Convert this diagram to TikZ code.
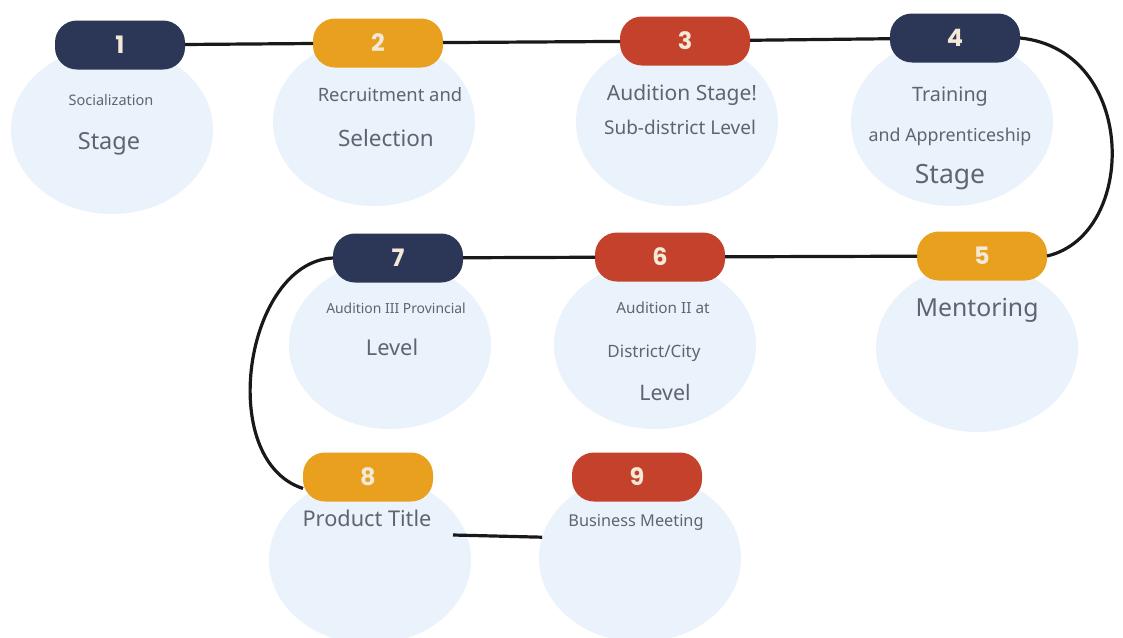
\documentclass[tikz,border=0pt]{standalone}
\usepackage{fontspec}
\setmainfont{Noto Sans}
\newfontfamily\numfont{Poppins}
\usepackage{xcolor}
\usepackage{tikz}
\usetikzlibrary{shapes.geometric}
\definecolor{navy}{HTML}{2C3757}
\definecolor{amber}{HTML}{E8A01E}
\definecolor{brick}{HTML}{C4412B}
\definecolor{blobblue}{HTML}{EAF2FB}
\definecolor{ink}{HTML}{5E6570}
\definecolor{cream}{HTML}{F4E8D6}

\begin{document}
\begin{tikzpicture}[x=1pt, y=-1pt,
  blob/.style={ellipse,fill=blobblue,minimum width=202pt,minimum height=168pt,inner sep=0pt,outer sep=0pt},
  pill/.style={rounded corners=22pt,minimum width=130pt,minimum height=49pt,inner sep=0pt,outer sep=0pt,text=cream,font=\numfont\bfseries\fontsize{24}{24}\selectfont},
  lbl/.style={text=ink,inner sep=0pt},
  link/.style={line width=3.2pt,black!90}]
  \useasboundingbox[fill=white] (0,0) rectangle (1123,637);
  \foreach \n/\x/\y in {1/112/130, 2/374/122, 3/677/122, 4/952/122, 5/977/348, 6/655/345, 7/390/345, 8/370/560, 9/640/558} {
    \node[blob] (b\n) at (\x,\y) {};
  }
  \foreach \n/\x/\y/\col in {1/120/45/navy, 2/378/43/amber, 3/685/41/brick, 4/955/38/navy, 5/982/256/amber, 6/660/257/brick, 7/398/258/navy, 8/368/477/amber, 9/637/477/brick} {
    \node[pill,fill=\col] (p\n) at (\x,\y) {\n};
  }
  \foreach \nm/\x/\y/\sz/\txt in {s1a/111/100/14.5/Socialization, s1b/109/144/23.5/Stage,
      s2a/390/95/18.4/{Recruitment and}, s2b/386/138/22.5/Selection,
      s3a/682/95/21/{Audition Stage!}, s3b/680/127/19/{Sub-district Level},
      s4a/950/97/19.8/Training, s4b/950/137/17.8/{and Apprenticeship}, s4c/950/177/26.5/Stage,
      s5a/977/310/24.8/Mentoring,
      s6a/663/308/15.3/{Audition II at}, s6b/654/353/17/{District/City}, s6c/665/392/21.4/Level,
      s7a/396/308/13.9/{Audition III Provincial}, s7b/392/347/21.8/Level,
      s8a/367/518/21.7/{Product Title}, s9a/636/522/16.3/{Business Meeting}} {
    \node[lbl,font=\fontsize{\sz}{\sz}\selectfont] (\nm) at (\x,\y) {\txt};
  }
  \foreach \i/\j in {1/2, 2/3, 3/4, 7/6, 6/5} { \draw[link] (p\i) -- (p\j); }
  \draw[link] (p4.east) .. controls (1138,50) and (1138,235) .. (p5.east);
  \draw[link] (p7.west) .. controls (245,262) and (215,460) .. (p8.190);
  \coordinate (m8) at (453,535);
  \draw[link] (m8) -- (b9.168);
\end{tikzpicture}
\end{document}
